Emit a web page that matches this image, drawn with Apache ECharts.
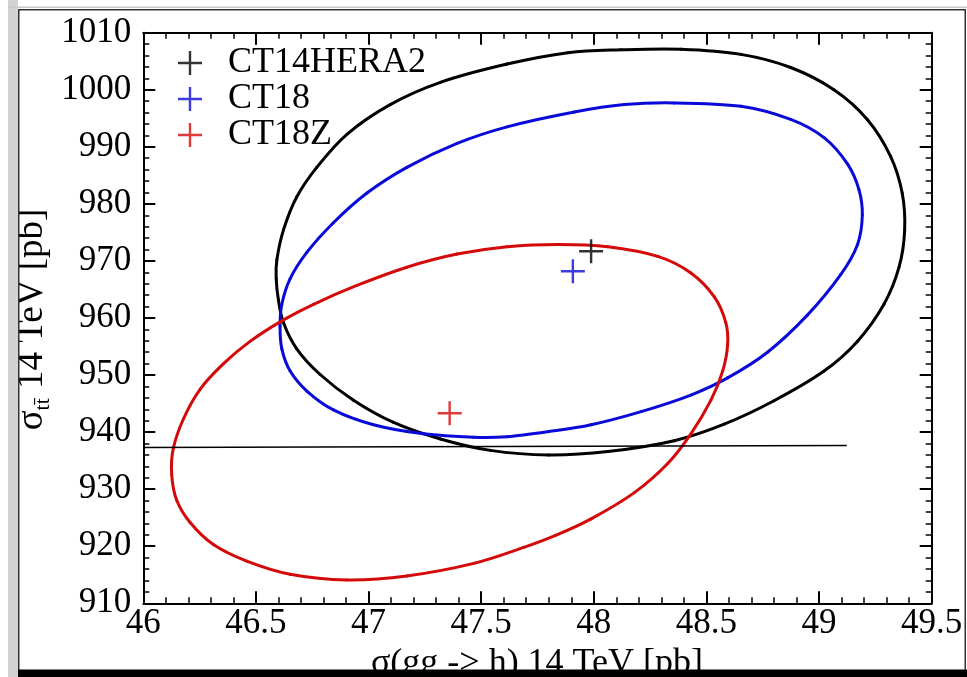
<!DOCTYPE html>
<html>
<head>
<meta charset="utf-8">
<script src="https://cdn.jsdelivr.net/npm/echarts@6/dist/echarts.min.js"></script>
<style>
html,body{margin:0;padding:0;background:#fff;}
#chart{width:967px;height:677px;}
</style>
</head>
<body>
<div id="chart"></div>
<script>
// ---- data ----
const seriesNames = ['CT14HERA2', 'CT18', 'CT18Z'];
const xTicks = [46, 46.5, 47, 47.5, 48, 48.5, 49, 49.5];
const yTicks = [910, 920, 930, 940, 950, 960, 970, 980, 990, 1000, 1010];

const centralCT14HERA2 = [[47.988, 971.7]];
const centralCT18 = [[47.907, 968.2]];
const centralCT18Z = [[47.36, 943.3]];

// closed contours (traced points, the curve closes back onto the first point)
const ellipseCT14HERA2 = [
  [48.121, 1007.0], [47.885, 1006.5], [47.615, 1004.5], [47.319, 1001.3],
  [47.096, 997.4], [46.904, 992.2], [46.770, 986.4], [46.681, 981.2],
  [46.622, 975.4], [46.593, 970.2], [46.590, 966.9], [46.600, 963.1],
  [46.622, 959.2], [46.681, 954.6], [46.785, 950.1], [46.933, 945.6],
  [47.111, 941.7], [47.319, 938.8], [47.541, 936.8], [47.800, 936.0],
  [48.062, 936.6], [48.357, 938.5], [48.579, 941.4], [48.800, 945.5],
  [49.022, 950.7], [49.170, 955.9], [49.288, 962.4], [49.355, 968.9],
  [49.380, 975.4], [49.369, 981.9], [49.318, 988.3], [49.214, 994.8],
  [49.066, 1000.0], [48.874, 1003.9], [48.653, 1006.2], [48.387, 1007.1]
];
const ellipseCT18 = [
  [48.357, 997.7], [48.136, 997.4], [47.914, 996.1], [47.615, 993.5],
  [47.393, 990.6], [47.170, 986.4], [46.993, 981.9], [46.844, 976.7],
  [46.726, 971.5], [46.652, 966.9], [46.615, 962.4], [46.607, 958.5],
  [46.615, 954.6], [46.652, 950.7], [46.726, 947.2], [46.844, 943.9],
  [47.022, 941.3], [47.244, 939.7], [47.467, 939.1], [47.615, 939.2],
  [47.800, 940.1], [47.988, 941.3], [48.210, 943.6], [48.431, 946.5],
  [48.594, 949.5], [48.771, 954.0], [48.948, 960.5], [49.096, 967.6],
  [49.170, 972.8], [49.192, 978.0], [49.177, 982.5], [49.126, 987.0],
  [49.022, 991.6], [48.874, 994.8], [48.653, 997.1]
];
const ellipseCT18Z = [
  [47.841, 972.9], [47.615, 972.5], [47.393, 971.2], [47.170, 968.9],
  [46.948, 965.7], [46.756, 962.4], [46.615, 959.5], [46.474, 955.9],
  [46.356, 952.0], [46.252, 947.5], [46.178, 942.3], [46.133, 937.1],
  [46.126, 932.6], [46.148, 928.1], [46.207, 924.2], [46.311, 920.3],
  [46.459, 917.4], [46.652, 915.1], [46.904, 914.1], [47.170, 914.8],
  [47.467, 917.0], [47.689, 919.8], [47.830, 921.9], [47.988, 924.8],
  [48.180, 929.4], [48.328, 934.5], [48.431, 939.7], [48.520, 945.6],
  [48.572, 950.7], [48.594, 955.3], [48.586, 959.2], [48.535, 963.7],
  [48.431, 967.9], [48.284, 970.8], [48.062, 972.5]
];
const refLine = [[46, 937.3], [49.123, 937.65]];

// ---- styling ----
const FONT = 'Liberation Serif';
const colors = { CT14HERA2: '#000000', CT18: '#0a0ad8', CT18Z: '#d40a0a' };
const plusPath = 'path://M-1.2,-12 H1.2 V-1.2 H12 V1.2 H1.2 V12 H-1.2 V1.2 H-12 V-1.2 H-1.2 Z';

const xMin = xTicks[0], xMax = xTicks[xTicks.length - 1];
const yMin = yTicks[0], yMax = yTicks[yTicks.length - 1];

function xAxisDef(pos, showLabel) {
  return {
    type: 'value', position: pos, min: xMin, max: xMax, interval: 0.5,
    axisLine: { show: true, onZero: false, lineStyle: { color: '#000', width: 2 } },
    axisTick: { show: true, inside: true, length: 12, lineStyle: { color: '#000', width: 2 } },
    minorTick: { show: true, splitNumber: 5, length: 6, lineStyle: { color: '#000', width: 1.5 } },
    splitLine: { show: false },
    axisLabel: { show: showLabel, fontFamily: FONT, fontSize: 35, color: '#000', margin: 3,
      formatter: v => String(v) }
  };
}
function yAxisDef(pos, showLabel) {
  return {
    type: 'value', position: pos, min: yMin, max: yMax, interval: 10,
    axisLine: { show: true, onZero: false, lineStyle: { color: '#000', width: 2 } },
    axisTick: { show: true, inside: true, length: 12, lineStyle: { color: '#000', width: 2 } },
    minorTick: { show: true, splitNumber: 5, length: 6, lineStyle: { color: '#000', width: 1.5 } },
    splitLine: { show: false },
    axisLabel: { show: showLabel, fontFamily: FONT, fontSize: 35, color: '#000', margin: 12,
      formatter: v => String(v) }
  };
}

// closed contour drawn as a smooth curve through the traced points,
// every point converted through the chart's own axes (api.coord)
function contourSeries(name, pts) {
  const color = colors[name];
  return {
    name: name + ' contour', type: 'custom', data: pts, silent: true, z: 3,
    encode: { x: 0, y: 1 },
    renderItem: function (params, api) {
      const n = pts.length, i = params.dataIndex;
      const c = k => api.coord(pts[((k % n) + n) % n]);
      const p0 = c(i - 1), p1 = c(i), p2 = c(i + 1), p3 = c(i + 2);
      return {
        type: 'bezierCurve',
        shape: {
          x1: p1[0], y1: p1[1], x2: p2[0], y2: p2[1],
          cpx1: p1[0] + (p2[0] - p0[0]) / 6, cpy1: p1[1] + (p2[1] - p0[1]) / 6,
          cpx2: p2[0] - (p3[0] - p1[0]) / 6, cpy2: p2[1] - (p3[1] - p1[1]) / 6
        },
        style: { stroke: color, lineWidth: 3, fill: 'none', lineCap: 'round' }
      };
    }
  };
}
function centralSeries(name, data) {
  return {
    name: name, type: 'scatter', data: data, symbol: plusPath, symbolSize: 24,
    itemStyle: { color: colors[name] }, z: 5
  };
}

const chart = echarts.init(document.getElementById('chart'), null, { renderer: 'canvas' });
chart.setOption({
  animation: false,
  backgroundColor: '#ffffff',
  grid: { left: 143.3, right: 35.3, top: 32.7, bottom: 73.7, containLabel: false },
  xAxis: [xAxisDef('bottom', true), xAxisDef('top', false)],
  yAxis: [yAxisDef('left', true), yAxisDef('right', false)],
  legend: {
    orient: 'vertical', left: 173, top: 40, itemWidth: 24, itemHeight: 24, itemGap: 0,
    data: seriesNames.map(n => ({ name: n, icon: plusPath, itemStyle: { color: colors[n] } })),
    textStyle: { fontFamily: FONT, fontSize: 36, color: '#000', lineHeight: 36, padding: [0, 0, 0, 21] },
    selectedMode: false
  },
  series: [
    contourSeries('CT14HERA2', ellipseCT14HERA2),
    contourSeries('CT18', ellipseCT18),
    contourSeries('CT18Z', ellipseCT18Z),
    {
      name: 'reference line', type: 'line', data: refLine, showSymbol: false, symbol: 'none',
      silent: true, lineStyle: { color: '#000', width: 1.6 }, z: 4
    },
    centralSeries('CT14HERA2', centralCT14HERA2),
    centralSeries('CT18', centralCT18),
    centralSeries('CT18Z', centralCT18Z)
  ],
  graphic: [
    {
      type: 'text', x: 32, y: 319.5, rotation: Math.PI / 2, z: 10,
      style: {
        text: '{m|σ}{s|tt\u0304}{m| 14 TeV [pb]}',
        align: 'center', verticalAlign: 'middle',
        rich: {
          m: { fontFamily: FONT, fontSize: 37, fill: '#000', lineHeight: 37 },
          s: { fontFamily: FONT, fontSize: 22, fill: '#000', verticalAlign: 'bottom', lineHeight: 45 }
        }
      }
    },
    {
      type: 'text', x: 537, y: 646, z: 10,
      style: {
        text: 'σ(gg -> h) 14 TeV [pb]', fontFamily: FONT, fontSize: 36, fill: '#000',
        align: 'center', verticalAlign: 'top', lineHeight: 36
      }
    },
    // screenshot frame
    { type: 'rect', z: 20, shape: { x: 8, y: 0, width: 10, height: 677 }, style: { fill: '#d3d3d3' } },
    { type: 'rect', z: 20, shape: { x: 8, y: 6.5, width: 959, height: 1.5 }, style: { fill: '#c8c8c8' } },
    { type: 'rect', z: 21, shape: { x: 18, y: 9, width: 948, height: 1.5 }, style: { fill: '#333' } },
    { type: 'rect', z: 21, shape: { x: 18, y: 9, width: 1.5, height: 668 }, style: { fill: '#333' } },
    { type: 'rect', z: 21, shape: { x: 964.5, y: 9, width: 1.5, height: 668 }, style: { fill: '#333' } },
    { type: 'rect', z: 22, shape: { x: 18, y: 669.5, width: 949, height: 7.5 }, style: { fill: '#000' } }
  ]
});
</script>
</body>
</html>
